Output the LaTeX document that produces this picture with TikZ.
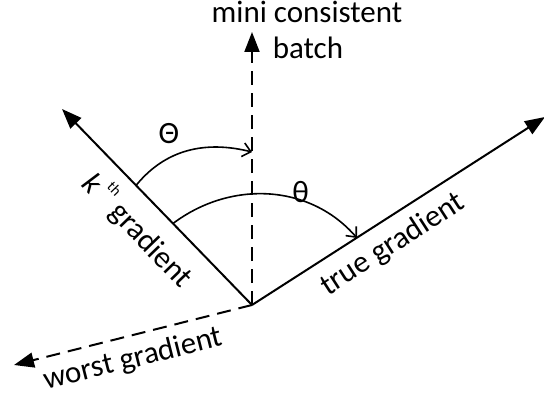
\documentclass[tikz,border=0pt]{standalone}
\usepackage{fontspec}
\setmainfont{Carlito}
\usetikzlibrary{arrows.meta}
\begin{document}
\begin{tikzpicture}[x=1pt,y=-1pt,
  vec/.style={line width=2pt,-{Triangle[length=20pt,width=15pt]}},
  dvec/.style={vec,dash pattern=on 14pt off 8pt},
  ang/.style={line width=1.6pt,-{Straight Barb[length=8pt,width=14pt]}},
  lbl/.style={font=\fontsize{31}{37}\selectfont,inner sep=0pt}]
\useasboundingbox (0,0) rectangle (544,404);
\coordinate (O) at (252,305);
\coordinate (up) at (252,32);
\coordinate (kth) at (62,109);
\coordinate (true) at (545,117);
\coordinate (worst) at (14,365);
\coordinate (a1s) at (136,185.5);
\coordinate (a1e) at (252,152);
\coordinate (a2s) at (173,223.5);
\coordinate (a2e) at (357,238);
\draw[dvec] (O) -- (up);
\draw[vec] (O) -- (kth);
\draw[vec] (O) -- (true);
\draw[dvec] (O) -- (worst);
\draw[ang] (a1s) to[out=51,in=166] (a1e);
\draw[ang] (a2s) to[out=37,in=131] (a2e);
\node[lbl,anchor=base] (t1) at (307,22.7) {mini consistent};
\node[lbl,anchor=base] (t2) at (308,58.5) {batch};
\node[lbl] (Th) at (169,134) {Θ};
\node[lbl] (th) at (300.5,192.5) {θ};
\node[lbl,anchor=base,rotate=-46] (kl) at (130.7,237.3) {\textit{k}\,\raisebox{17pt}{\fontsize{15}{15}\selectfont th}\ gradient};
\node[lbl,anchor=base,rotate=32.9] (tl) at (397.3,251.6) {true gradient};
\node[lbl,anchor=base,rotate=14.1] (wl) at (135.2,367.4) {worst gradient};
\end{tikzpicture}
\end{document}
